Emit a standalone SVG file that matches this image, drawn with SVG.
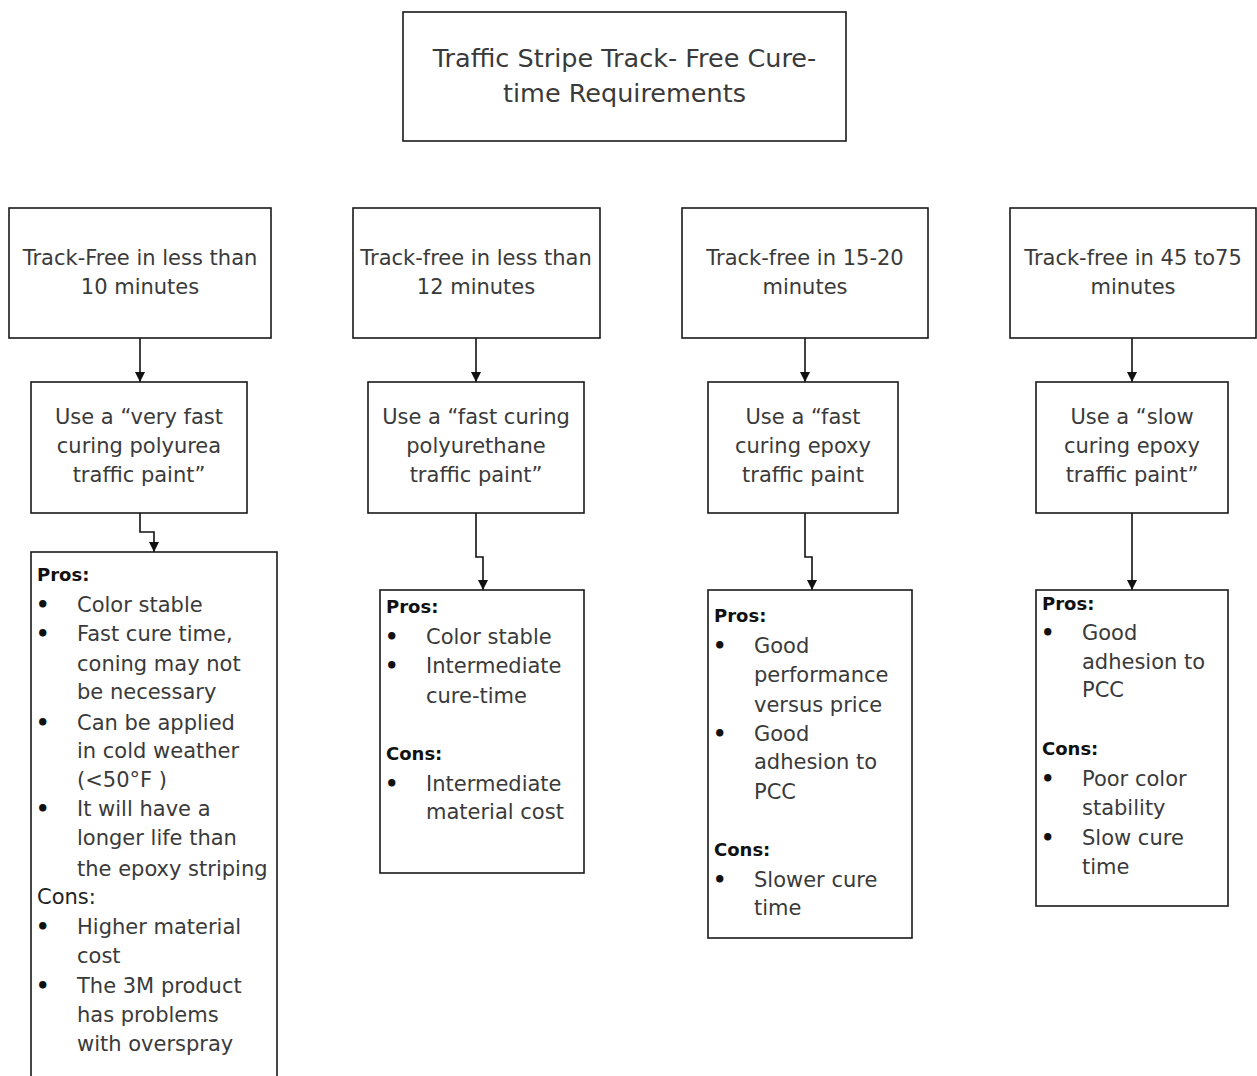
<svg xmlns="http://www.w3.org/2000/svg" width="1257" height="1076" viewBox="0 0 1257 1076">
<style>
.box{fill:#fff;stroke:#1a1a1a;stroke-width:1.6}
.t{font-family:"DejaVu Sans","Liberation Sans",sans-serif;font-size:21px;fill:#3a3a3a}
.tt{font-size:25.5px}
.c{text-anchor:middle}
.h{fill:#111;font-weight:bold;font-size:18px}
.hn{fill:#222}
.b{fill:#111;font-weight:bold}
.con{fill:none;stroke:#111;stroke-width:1.6}
</style>
<defs>
<marker id="arr" viewBox="0 0 10 10" refX="10" refY="5" markerWidth="10" markerHeight="10" markerUnits="userSpaceOnUse" orient="auto">
<path d="M0,0 L10,5 L0,10 z" fill="#111"/>
</marker>
</defs>
<rect width="1257" height="1076" fill="#fff"/>

<g id="connectors">
<path class="con" d="M140,338 V382" marker-end="url(#arr)"/>
<path class="con" d="M476,338 V382" marker-end="url(#arr)"/>
<path class="con" d="M805,338 V382" marker-end="url(#arr)"/>
<path class="con" d="M1132,338 V382" marker-end="url(#arr)"/>
<path class="con" d="M140,513 V532 H154 V552" marker-end="url(#arr)"/>
<path class="con" d="M476,513 V557 H483 V590" marker-end="url(#arr)"/>
<path class="con" d="M805,513 V557 H812 V590" marker-end="url(#arr)"/>
<path class="con" d="M1132,513 V590" marker-end="url(#arr)"/>
</g>

<g id="title">
<rect class="box" x="403" y="12" width="443" height="129"/>
<text class="t tt c" x="624.5" y="67">Traffic Stripe Track- Free Cure-</text>
<text class="t tt c" x="624.5" y="102">time Requirements</text>
</g>

<g id="req1">
<rect class="box" x="9" y="208" width="262" height="130"/>
<text class="t c" x="140" y="265">Track-Free in less than</text>
<text class="t c" x="140" y="294">10 minutes</text>
</g>
<g id="req2">
<rect class="box" x="353" y="208" width="247" height="130"/>
<text class="t c" x="476" y="265">Track-free in less than</text>
<text class="t c" x="476" y="294">12 minutes</text>
</g>
<g id="req3">
<rect class="box" x="682" y="208" width="246" height="130"/>
<text class="t c" x="805" y="265">Track-free in 15-20</text>
<text class="t c" x="805" y="294">minutes</text>
</g>
<g id="req4">
<rect class="box" x="1010" y="208" width="246" height="130"/>
<text class="t c" x="1133" y="265">Track-free in 45 to75</text>
<text class="t c" x="1133" y="294">minutes</text>
</g>

<g id="use1">
<rect class="box" x="31" y="382" width="216" height="131"/>
<text class="t c" x="139" y="424">Use a “very fast</text>
<text class="t c" x="139" y="453">curing polyurea</text>
<text class="t c" x="139" y="482">traffic paint”</text>
</g>
<g id="use2">
<rect class="box" x="368" y="382" width="216" height="131"/>
<text class="t c" x="476" y="424">Use a “fast curing</text>
<text class="t c" x="476" y="453">polyurethane</text>
<text class="t c" x="476" y="482">traffic paint”</text>
</g>
<g id="use3">
<rect class="box" x="708" y="382" width="190" height="131"/>
<text class="t c" x="803" y="424">Use a “fast</text>
<text class="t c" x="803" y="453">curing epoxy</text>
<text class="t c" x="803" y="482">traffic paint</text>
</g>
<g id="use4">
<rect class="box" x="1036" y="382" width="192" height="131"/>
<text class="t c" x="1132" y="424">Use a “slow</text>
<text class="t c" x="1132" y="453">curing epoxy</text>
<text class="t c" x="1132" y="482">traffic paint”</text>
</g>

<g id="pc1">
<rect class="box" x="31" y="552" width="246" height="530"/>
<text class="t h" x="37" y="581">Pros:</text>
<text class="t b" x="36" y="612">•</text><text class="t" x="77" y="612">Color stable</text>
<text class="t b" x="36" y="641">•</text><text class="t" x="77" y="641">Fast cure time,</text>
<text class="t" x="77" y="671">coning may not</text>
<text class="t" x="77" y="699">be necessary</text>
<text class="t b" x="36" y="730">•</text><text class="t" x="77" y="730">Can be applied</text>
<text class="t" x="77" y="758">in cold weather</text>
<text class="t" x="77" y="787">(&lt;50°F )</text>
<text class="t b" x="36" y="816">•</text><text class="t" x="77" y="816">It will have a</text>
<text class="t" x="77" y="845">longer life than</text>
<text class="t" x="77" y="876">the epoxy striping</text>
<text class="t hn" x="37" y="904">Cons:</text>
<text class="t b" x="36" y="934">•</text><text class="t" x="77" y="934">Higher material</text>
<text class="t" x="77" y="963">cost</text>
<text class="t b" x="36" y="993">•</text><text class="t" x="77" y="993">The 3M product</text>
<text class="t" x="77" y="1022">has problems</text>
<text class="t" x="77" y="1051">with overspray</text>
</g>

<g id="pc2">
<rect class="box" x="380" y="590" width="204" height="283"/>
<text class="t h" x="386" y="613">Pros:</text>
<text class="t b" x="385" y="644">•</text><text class="t" x="426" y="644">Color stable</text>
<text class="t b" x="385" y="673">•</text><text class="t" x="426" y="673">Intermediate</text>
<text class="t" x="426" y="703">cure-time</text>
<text class="t h" x="386" y="760">Cons:</text>
<text class="t b" x="385" y="791">•</text><text class="t" x="426" y="791">Intermediate</text>
<text class="t" x="426" y="819">material cost</text>
</g>

<g id="pc3">
<rect class="box" x="708" y="590" width="204" height="348"/>
<text class="t h" x="714" y="622">Pros:</text>
<text class="t b" x="713" y="653">•</text><text class="t" x="754" y="653">Good</text>
<text class="t" x="754" y="682">performance</text>
<text class="t" x="754" y="712">versus price</text>
<text class="t b" x="713" y="741">•</text><text class="t" x="754" y="741">Good</text>
<text class="t" x="754" y="769">adhesion to</text>
<text class="t" x="754" y="799">PCC</text>
<text class="t h" x="714" y="856">Cons:</text>
<text class="t b" x="713" y="887">•</text><text class="t" x="754" y="887">Slower cure</text>
<text class="t" x="754" y="915">time</text>
</g>

<g id="pc4">
<rect class="box" x="1036" y="590" width="192" height="316"/>
<text class="t h" x="1042" y="610">Pros:</text>
<text class="t b" x="1041" y="640">•</text><text class="t" x="1082" y="640">Good</text>
<text class="t" x="1082" y="669">adhesion to</text>
<text class="t" x="1082" y="697">PCC</text>
<text class="t h" x="1042" y="755">Cons:</text>
<text class="t b" x="1041" y="786">•</text><text class="t" x="1082" y="786">Poor color</text>
<text class="t" x="1082" y="815">stability</text>
<text class="t b" x="1041" y="845">•</text><text class="t" x="1082" y="845">Slow cure</text>
<text class="t" x="1082" y="874">time</text>
</g>
</svg>
